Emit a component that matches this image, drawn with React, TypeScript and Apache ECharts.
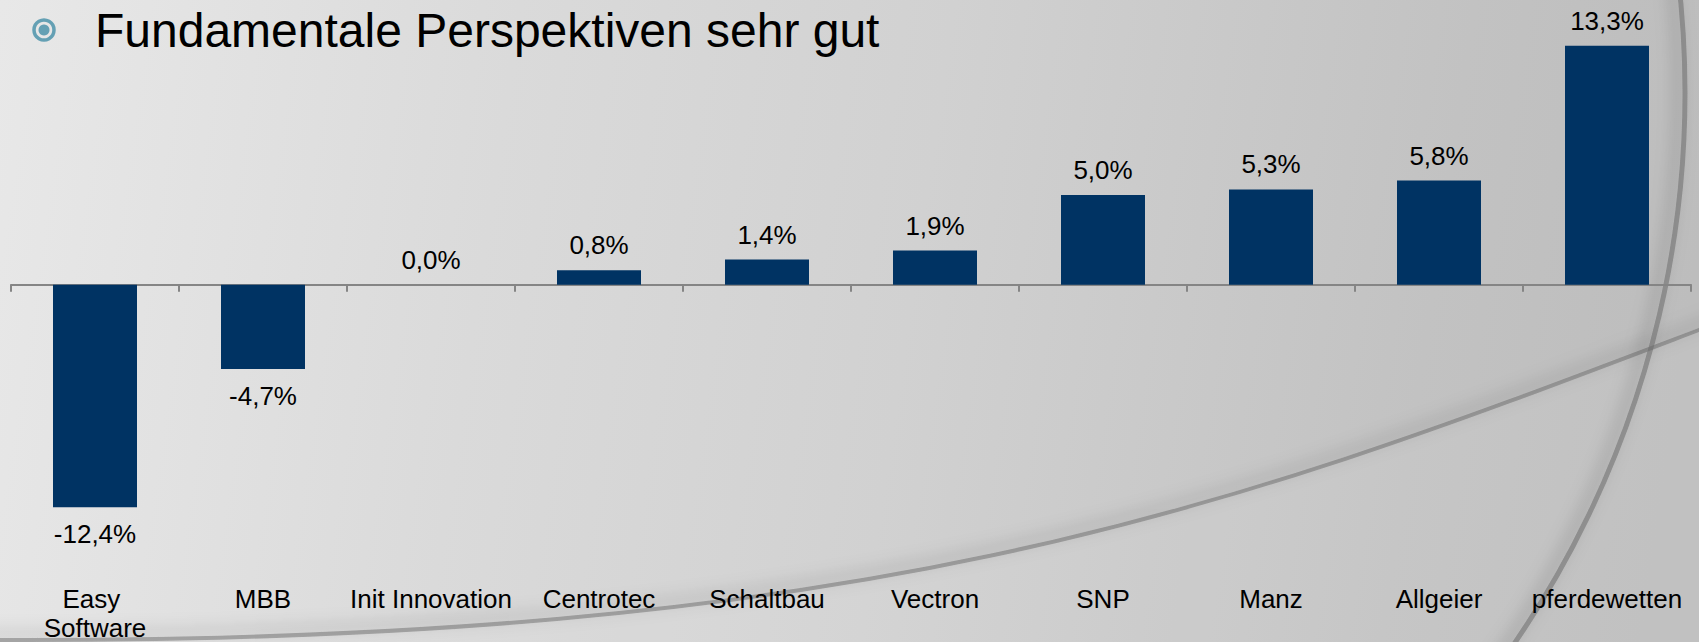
import React, { useEffect, useRef } from 'react';
import * as echarts from 'echarts';

const categories = [
  'Easy Software',
  'MBB',
  'Init Innovation',
  'Centrotec',
  'Schaltbau',
  'Vectron',
  'SNP',
  'Manz',
  'Allgeier',
  'pferdewetten',
];
const values = [-12.4, -4.7, 0.0, 0.8, 1.4, 1.9, 5.0, 5.3, 5.8, 13.3];
const titleText = 'Fundamentale Perspektiven sehr gut';
const yMin = -14;
const yMax = 14;

const FONT = "'Liberation Sans', Arial, Helvetica, sans-serif";

export default function App() {
  const ref = useRef<HTMLDivElement>(null);

  useEffect(() => {
    document.body.style.margin = '0';
    if (!ref.current) return;
    const chart = echarts.init(ref.current, null, { renderer: 'svg' });

    echarts.graphic.registerShape(
      'lowerWave',
      echarts.graphic.extendPath('M-20,640 C900,645 1250,500 1720,322 L1720,720 L-20,720 Z', {})
    );

    const bg = new echarts.graphic.LinearGradient(
      0, 0, 1699, 250,
      [
        { offset: 0, color: '#e8e8e8' },
        { offset: 0.3, color: '#dadada' },
        { offset: 0.55, color: '#d1d1d1' },
        { offset: 0.85, color: '#c2c2c2' },
        { offset: 1, color: '#bdbdbd' },
      ],
      true
    );

    const fmt = (v: number) => v.toFixed(1).replace('.', ',') + '%';

    const barData = values.map((v) => ({
      value: v,
      label: {
        position: v < 0 ? 'bottom' : 'top',
        distance: v < 0 ? 14 : 12,
      },
    }));

    chart.setOption({
      animation: false,
      grid: { left: 11, right: 8, top: 33.3, bottom: 89.3, containLabel: false },
      graphic: [
        { type: 'rect', z: -10, shape: { x: 0, y: 0, width: 1699, height: 642 }, style: { fill: bg } },
        {
          type: 'lowerWave', z: -9, x: 0, y: 0, scaleX: 1, scaleY: 1,
          style: { fill: 'rgba(255,255,255,0.07)' },
        },
        {
          type: 'bezierCurve', z: -8,
          shape: { x1: -20, y1: 640, cpx1: 900, cpy1: 645, cpx2: 1250, cpy2: 500, x2: 1720, y2: 322 },
          style: {
            fill: 'none', stroke: 'rgba(105,105,105,0.5)', lineWidth: 4,
            shadowBlur: 16, shadowColor: 'rgba(0,0,0,0.5)', shadowOffsetY: -6,
          },
        },
        {
          type: 'circle', z: -8,
          shape: { cx: 712, cy: 93, r: 973 },
          style: {
            fill: 'none', stroke: 'rgba(105,105,105,0.55)', lineWidth: 5,
            shadowBlur: 16, shadowColor: 'rgba(0,0,0,0.5)', shadowOffsetX: -7,
          },
        },
        {
          type: 'circle', z: 5,
          shape: { cx: 44, cy: 30, r: 10 },
          style: { fill: 'none', stroke: '#64a0b4', lineWidth: 3.5 },
        },
        {
          type: 'circle', z: 5,
          shape: { cx: 44, cy: 30, r: 5.5 },
          style: { fill: '#64a0b4' },
        },
        {
          type: 'text', z: 5, x: 95, y: 30,
          style: {
            text: titleText, fill: '#000', fontSize: 48, fontFamily: FONT,
            align: 'left', verticalAlign: 'middle',
          },
        },
      ],
      xAxis: [
        {
          type: 'category',
          data: categories,
          position: 'bottom',
          axisLine: { show: true, onZero: true, lineStyle: { color: '#858585', width: 2 } },
          axisTick: { show: true, length: 7, lineStyle: { color: '#858585', width: 2 } },
          axisLabel: { show: false },
          splitLine: { show: false },
        },
        {
          type: 'category',
          data: categories,
          position: 'bottom',
          axisLine: { show: false, onZero: false },
          axisTick: { show: false },
          splitLine: { show: false },
          axisLabel: {
            show: true,
            interval: 0,
            margin: 48,
            color: '#000',
            fontSize: 26,
            fontFamily: FONT,
            lineHeight: 29,
            width: 164,
            overflow: 'break',
          },
        },
      ],
      yAxis: {
        type: 'value',
        min: yMin,
        max: yMax,
        show: false,
        splitLine: { show: false },
      },
      series: [
        {
          type: 'bar',
          xAxisIndex: 0,
          data: barData,
          barWidth: '50%',
          itemStyle: { color: '#003363' },
          label: {
            show: true,
            color: '#000',
            fontSize: 26,
            fontFamily: FONT,
            lineHeight: 26,
            formatter: (p: any) => fmt(p.value),
          },
        },
      ],
    });

    return () => chart.dispose();
  }, []);

  return (
    <div
      ref={ref}
      style={{ position: 'absolute', left: 0, top: 0, width: 1699, height: 642 }}
    />
  );
}
